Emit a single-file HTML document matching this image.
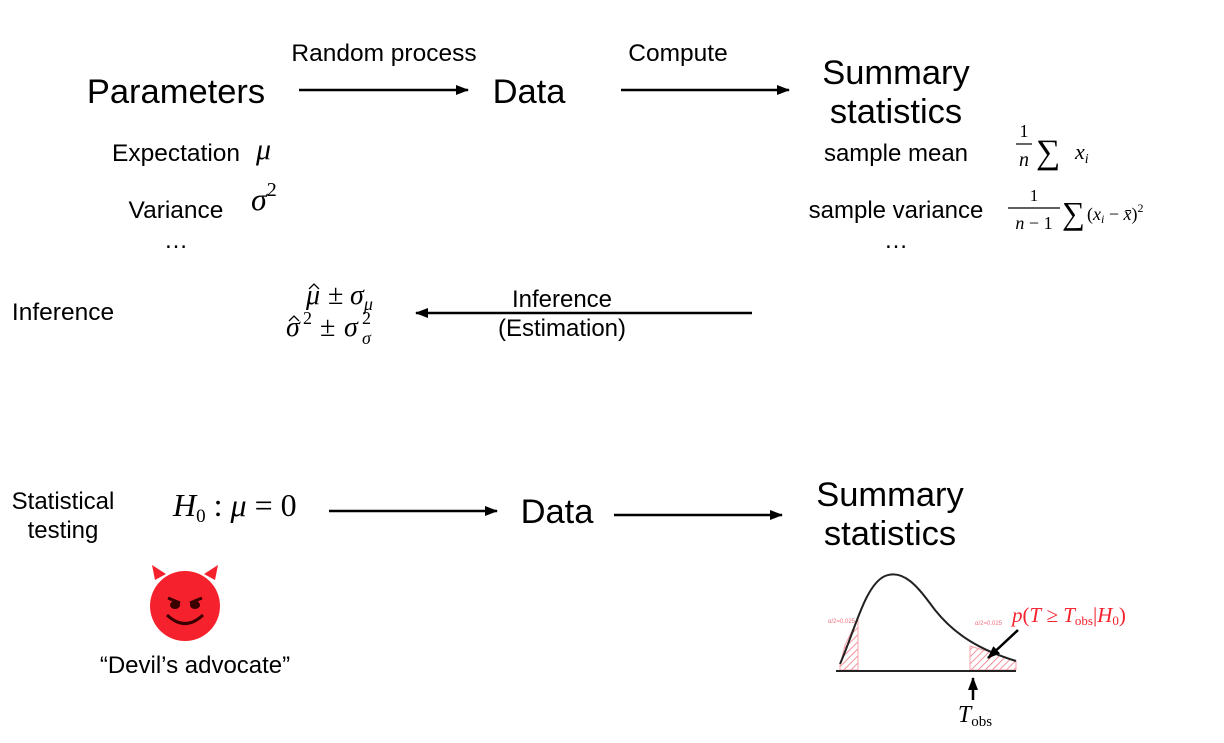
<!DOCTYPE html>
<html><head><meta charset="utf-8"><style>
body{margin:0;background:#fff}
svg{display:block}
.s{font-family:"Liberation Sans",sans-serif;fill:#000}
.m{font-family:"Liberation Serif",serif;font-style:italic;fill:#000}
.r{font-family:"Liberation Serif",serif;fill:#000}
</style></head><body>
<svg width="1224" height="743" viewBox="0 0 1224 743">
<defs><marker id="ah" markerWidth="13" markerHeight="10" refX="12" refY="5" orient="auto" markerUnits="userSpaceOnUse"><path d="M0,0 L13,5 L0,10 z" fill="#000"/></marker>
<pattern id="hatch" width="5" height="5" patternUnits="userSpaceOnUse" patternTransform="rotate(45)"><line x1="0" y1="0" x2="0" y2="5" stroke="#f07080" stroke-width="1.5"/></pattern></defs>
<g>
<text class="s" x="176" y="103" font-size="34.5" text-anchor="middle">Parameters</text>
<text class="s" x="529" y="103" font-size="34.5" text-anchor="middle">Data</text>
<text class="s" x="896" y="84" font-size="34.5" text-anchor="middle">Summary</text>
<text class="s" x="896" y="123" font-size="34.5" text-anchor="middle">statistics</text>
<line x1="299" y1="90" x2="468" y2="90" stroke="#000" stroke-width="2.5" marker-end="url(#ah)"/>
<line x1="621" y1="90" x2="789" y2="90" stroke="#000" stroke-width="2.5" marker-end="url(#ah)"/>
<text class="s" x="384" y="61" font-size="24.5" text-anchor="middle">Random process</text>
<text class="s" x="678" y="61" font-size="24.5" text-anchor="middle">Compute</text>
<text class="s" x="176" y="161" font-size="24.5" text-anchor="middle">Expectation</text>
<text class="m" x="256" y="159" font-size="30">μ</text>
<text class="s" x="176" y="218" font-size="24.5" text-anchor="middle">Variance</text>
<text class="m" x="251" y="210" font-size="32">σ<tspan font-style="normal" font-size="20" dy="-14">2</tspan></text>
<text class="s" x="176" y="248" font-size="24" text-anchor="middle">…</text>
<text class="s" x="896" y="161" font-size="24" text-anchor="middle">sample mean</text>
<g>
<text class="r" x="1024" y="137" font-size="18" text-anchor="middle">1</text>
<line x1="1016" y1="144" x2="1032" y2="144" stroke="#000" stroke-width="1.2"/>
<text class="m" x="1024" y="166" font-size="20" text-anchor="middle">n</text>
<text class="r" x="1036" y="163" font-size="34">∑</text>
<text class="m" x="1075" y="159" font-size="22">x<tspan font-size="14" dy="4">i</tspan></text>
</g>
<text class="s" x="896" y="218" font-size="24" text-anchor="middle">sample variance</text>
<g>
<text class="r" x="1034" y="201" font-size="17" text-anchor="middle">1</text>
<line x1="1008" y1="208" x2="1060" y2="208" stroke="#000" stroke-width="1.2"/>
<text class="m" x="1034" y="229" font-size="18" text-anchor="middle">n <tspan font-style="normal">− 1</tspan></text>
<text class="r" x="1062" y="224" font-size="32">∑</text>
<text class="m" x="1087" y="220" font-size="18"><tspan font-style="normal">(</tspan>x<tspan font-size="12" dy="3">i</tspan><tspan dy="-3" font-style="normal"> − </tspan>x̄<tspan font-style="normal">)</tspan><tspan font-style="normal" font-size="12" dy="-8">2</tspan></text>
</g>
<text class="s" x="896" y="248" font-size="24" text-anchor="middle">…</text>
<text class="s" x="63" y="320" font-size="24.5" text-anchor="middle">Inference</text>
<g>
<text class="m" x="306" y="304" font-size="28">μ</text>
<path d="M309,289 L314,284 L319,289" stroke="#000" stroke-width="1.3" fill="none"/>
<text class="r" x="328" y="304" font-size="28">±</text>
<text class="m" x="350" y="304" font-size="28">σ<tspan font-size="18" dy="6">μ</tspan></text>
</g>
<g>
<text class="m" x="286" y="336" font-size="28">σ</text>
<path d="M289,321 L294,316 L299,321" stroke="#000" stroke-width="1.3" fill="none"/>
<text class="r" x="303" y="324" font-size="18">2</text>
<text class="r" x="320" y="336" font-size="28">±</text>
<text class="m" x="344" y="336" font-size="28">σ</text>
<text class="r" x="362" y="324" font-size="18">2</text>
<text class="m" x="362" y="344" font-size="18">σ</text>
</g>
<line x1="752" y1="313" x2="416" y2="313" stroke="#000" stroke-width="2.5" marker-end="url(#ah)"/>
<text class="s" x="562" y="307" font-size="24" text-anchor="middle">Inference</text>
<text class="s" x="562" y="336" font-size="24" text-anchor="middle">(Estimation)</text>
</g>
<g>
<text class="s" x="63" y="509" font-size="24" text-anchor="middle">Statistical</text>
<text class="s" x="63" y="538" font-size="24" text-anchor="middle">testing</text>
<text class="m" x="173" y="516" font-size="32">H<tspan font-size="19" dy="6" font-style="normal">0</tspan><tspan dy="-6" font-style="normal"> : </tspan>μ<tspan font-style="normal"> = 0</tspan></text>
<line x1="329" y1="511" x2="497" y2="511" stroke="#000" stroke-width="2.5" marker-end="url(#ah)"/>
<text class="s" x="557" y="523" font-size="34.5" text-anchor="middle">Data</text>
<line x1="614" y1="515" x2="782" y2="515" stroke="#000" stroke-width="2.5" marker-end="url(#ah)"/>
<text class="s" x="890" y="506" font-size="34.5" text-anchor="middle">Summary</text>
<text class="s" x="890" y="545" font-size="34.5" text-anchor="middle">statistics</text>
<g>
<path d="M155,580 L152,565 L166,574 Z M215,580 L218,565 L204,574 Z" fill="#f5222d"/>
<circle cx="185" cy="606" r="35" fill="#f5222d"/>
<path d="M168,598 L180,603 M202,598 L190,603" stroke="#3a0000" stroke-width="3"/>
<ellipse cx="175" cy="605" rx="5" ry="4" fill="#3a0000"/>
<ellipse cx="195" cy="605" rx="5" ry="4" fill="#3a0000"/>
<path d="M167,615 Q185,632 203,615" stroke="#3a0000" stroke-width="3" fill="none"/>
</g>
<text class="s" x="195" y="673" font-size="24" text-anchor="middle">“Devil’s advocate”</text>
<g>
<path d="M840,665 L845,645 L855,625 L858,620 L858,670 L840,670 Z" fill="url(#hatch)" stroke="#f5a0a8" stroke-width="1"/>
<path d="M970,646 L990,652 L1016,661 L1016,670 L970,670 Z" fill="url(#hatch)" stroke="#f5a0a8" stroke-width="1"/>
<path d="M840,664 C855,630 865,585 885,576 C905,568 920,590 935,610 C955,635 980,650 1016,661" stroke="#222" stroke-width="2" fill="none"/>
<line x1="836" y1="671" x2="1016" y2="671" stroke="#222" stroke-width="2"/>
<text x="828" y="623" font-size="6" fill="#f07080" font-family="Liberation Sans,sans-serif">α/2=0.025</text>
<text x="975" y="625" font-size="6" fill="#f07080" font-family="Liberation Sans,sans-serif">α/2=0.025</text>
<line x1="973" y1="700" x2="973" y2="678" stroke="#000" stroke-width="2.5" marker-end="url(#ah)"/>
<text class="m" x="975" y="722" font-size="24" text-anchor="middle">T<tspan font-style="normal" font-size="15" dy="4">obs</tspan></text>
<line x1="1018" y1="630" x2="988" y2="658" stroke="#000" stroke-width="2.5" marker-end="url(#ah)"/>
<text class="m" x="1012" y="622" font-size="21" style="fill:#f5222d">p<tspan font-style="normal">(</tspan>T<tspan font-style="normal"> ≥ </tspan>T<tspan font-style="normal" font-size="13" dy="3">obs</tspan><tspan dy="-3" font-style="normal">|</tspan>H<tspan font-style="normal" font-size="13" dy="3">0</tspan><tspan dy="-3" font-style="normal">)</tspan></text>
</g>
</g>
</svg>
</body></html>
